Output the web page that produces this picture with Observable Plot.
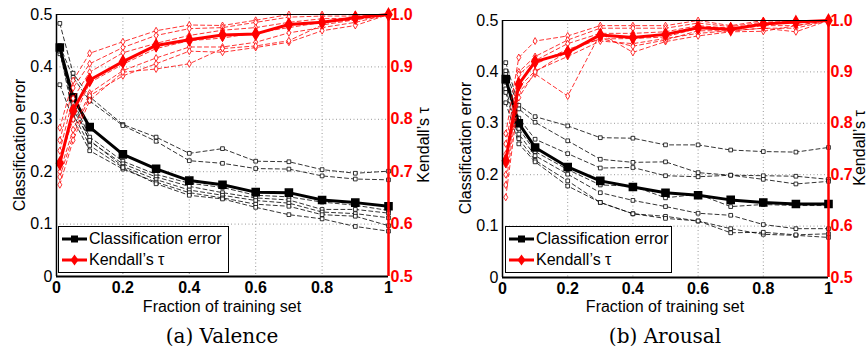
<!DOCTYPE html>
<html><head><meta charset="utf-8">
<script src="https://cdn.jsdelivr.net/npm/d3@7"></script>
<script src="https://cdn.jsdelivr.net/npm/@observablehq/plot@0.6"></script>
<style>
body{margin:0;background:#fff;}
#wrap{position:relative;width:867px;height:349px;overflow:hidden;font-family:"Liberation Sans",Arial,sans-serif;color:#000;}
.panel{position:absolute;top:0;height:306px;}
.ytitle,.ktitle{position:absolute;font-size:16px;line-height:15px;white-space:nowrap;transform:translate(-50%,-50%) rotate(-90deg);}
.xtitle{position:absolute;font-size:16px;line-height:15px;white-space:nowrap;transform:translateX(-50%);}
.cap{position:absolute;font-family:"DejaVu Serif",serif;font-size:20px;line-height:20px;white-space:nowrap;transform:translateX(-50%);}
.legend{position:absolute;border:1.5px solid #000;background:#fff;box-sizing:border-box;}
.lrow{position:absolute;left:3px;display:flex;align-items:center;font-size:16px;line-height:18px;white-space:nowrap;}
.lrow svg{margin-right:2px;}
</style></head>
<body><div id="wrap"></div>
<script>
// ---------- data ----------
const fractions = [0.01, 0.05, 0.1, 0.2, 0.3, 0.4, 0.5, 0.6, 0.7, 0.8, 0.9, 1.0];
const xTicks = [0, 0.2, 0.4, 0.6, 0.8, 1];
const errTicks = [0, 0.1, 0.2, 0.3, 0.4, 0.5];
const tauTicks = [0.5, 0.6, 0.7, 0.8, 0.9, 1.0];

// (a) Valence
const valenceErrMean = [0.437, 0.342, 0.285, 0.233, 0.2055, 0.183, 0.175, 0.161, 0.160, 0.146, 0.141, 0.134];
const valenceErrFolds = [
  [0.483, 0.388, 0.343, 0.290, 0.266, 0.235, 0.244, 0.220, 0.219, 0.204, 0.197, 0.201],
  [0.440, 0.380, 0.335, 0.288, 0.258, 0.221, 0.216, 0.206, 0.205, 0.192, 0.186, 0.1845],
  [0.430, 0.335, 0.266, 0.220, 0.195, 0.178, 0.170, 0.155, 0.152, 0.142, 0.136, 0.126],
  [0.425, 0.330, 0.258, 0.215, 0.190, 0.172, 0.160, 0.150, 0.146, 0.128, 0.128, 0.121],
  [0.440, 0.320, 0.260, 0.210, 0.185, 0.165, 0.155, 0.145, 0.140, 0.123, 0.120, 0.112],
  [0.366, 0.300, 0.240, 0.205, 0.180, 0.160, 0.150, 0.138, 0.134, 0.118, 0.115, 0.097],
  [0.430, 0.310, 0.250, 0.208, 0.177, 0.155, 0.148, 0.132, 0.118, 0.110, 0.0955, 0.0865]
];
const valenceTauMean = [0.716, 0.817, 0.875, 0.910, 0.941, 0.952, 0.961, 0.963, 0.981, 0.985, 0.994, 1.0];
const valenceTauFolds = [
  [0.784, 0.874, 0.926, 0.948, 0.969, 0.980, 0.979, 0.989, 1.0, 1.0, 1.0, 1.0],
  [0.760, 0.860, 0.906, 0.937, 0.960, 0.973, 0.975, 0.985, 0.995, 0.997, 0.997, 1.0],
  [0.740, 0.840, 0.890, 0.927, 0.945, 0.960, 0.970, 0.975, 0.985, 0.992, 0.993, 1.0],
  [0.720, 0.800, 0.870, 0.905, 0.935, 0.950, 0.955, 0.965, 0.975, 0.985, 0.990, 1.0],
  [0.700, 0.780, 0.850, 0.893, 0.917, 0.938, 0.938, 0.947, 0.965, 0.975, 0.985, 1.0],
  [0.690, 0.769, 0.845, 0.883, 0.906, 0.930, 0.928, 0.937, 0.947, 0.969, 0.979, 1.0],
  [0.675, 0.760, 0.836, 0.890, 0.896, 0.906, 0.935, 0.940, 0.950, 0.980, 0.990, 1.0]
];

// (b) Arousal
const arousalErrMean = [0.386, 0.300, 0.253, 0.215, 0.188, 0.176, 0.165, 0.160, 0.151, 0.146, 0.143, 0.143];
const arousalErrFolds = [
  [0.418, 0.335, 0.313, 0.295, 0.272, 0.271, 0.258, 0.258, 0.248, 0.245, 0.244, 0.253],
  [0.402, 0.328, 0.302, 0.266, 0.230, 0.224, 0.225, 0.204, 0.199, 0.198, 0.197, 0.191],
  [0.395, 0.310, 0.269, 0.241, 0.213, 0.214, 0.198, 0.196, 0.199, 0.191, 0.182, 0.187],
  [0.380, 0.290, 0.245, 0.210, 0.180, 0.178, 0.155, 0.162, 0.138, 0.142, 0.140, 0.140],
  [0.367, 0.279, 0.237, 0.201, 0.165, 0.150, 0.138, 0.125, 0.121, 0.103, 0.095, 0.095],
  [0.360, 0.270, 0.228, 0.188, 0.146, 0.124, 0.119, 0.110, 0.095, 0.084, 0.082, 0.078],
  [0.340, 0.260, 0.225, 0.178, 0.146, 0.124, 0.115, 0.110, 0.087, 0.088, 0.083, 0.085]
];
const arousalTauMean = [0.727, 0.876, 0.920, 0.938, 0.972, 0.967, 0.973, 0.986, 0.983, 0.993, 0.997, 1.0];
const arousalTauFolds = [
  [0.780, 0.928, 0.960, 0.970, 0.990, 0.990, 0.990, 1.0, 0.990, 1.0, 1.0, 1.0],
  [0.760, 0.900, 0.930, 0.962, 0.985, 0.985, 0.985, 0.995, 0.988, 0.997, 0.998, 1.0],
  [0.740, 0.895, 0.922, 0.955, 0.975, 0.975, 0.978, 0.990, 0.985, 0.993, 0.995, 1.0],
  [0.720, 0.880, 0.915, 0.944, 0.964, 0.965, 0.968, 0.985, 0.982, 0.990, 0.990, 1.0],
  [0.700, 0.870, 0.902, 0.930, 0.960, 0.955, 0.965, 0.975, 0.980, 0.985, 0.985, 1.0],
  [0.680, 0.860, 0.896, 0.853, 0.975, 0.938, 0.959, 0.970, 0.978, 0.979, 0.990, 1.0],
  [0.656, 0.850, 0.900, 0.940, 0.965, 0.950, 0.962, 0.980, 0.980, 0.985, 0.978, 1.0]
];

// ---------- drawing ----------
const RED = "#ff0000";
const TAU_BASE = tauTicks[0]; // right axis 0.5..1.0 shares the left axis 0..0.5
const meanRows = vals => vals.map((v, i) => ({f: fractions[i], v}));
const foldRows = folds => folds.flatMap((fold, k) => fold.map((v, i) => ({f: fractions[i], v, fold: k})));
const tauY = d => d.v - TAU_BASE;

function panel(cfg) {
  const errM = meanRows(cfg.errMean), errF = foldRows(cfg.errFolds);
  const tauM = meanRows(cfg.tauMean), tauF = foldRows(cfg.tauFolds);
  const gridStyle = {stroke: "#999", strokeOpacity: 1, strokeWidth: 1, strokeDasharray: "1,2.5"};
  return Plot.plot({
    width: cfg.width, height: 306,
    marginLeft: cfg.ml, marginRight: cfg.mr, marginTop: cfg.mt, marginBottom: 306 - cfg.bottom,
    style: {fontFamily: "'Liberation Sans', Arial, sans-serif", fontSize: "16px", background: "white", overflow: "visible"},
    x: {domain: [0, 1]},
    y: {domain: [0, 0.5]},
    marks: [
      Plot.ruleX(xTicks.slice(1, -1), gridStyle),
      Plot.ruleY(errTicks.slice(1, -1), gridStyle),
      Plot.line(errF, {x: "f", y: "v", z: "fold", stroke: "#000", strokeWidth: 0.8, strokeDasharray: "4,3"}),
      Plot.dot(errF, {x: "f", y: "v", symbol: "square", r: 2.1, stroke: "#000", fill: "white", strokeWidth: 0.8}),
      Plot.line(errM, {x: "f", y: "v", stroke: "#000", strokeWidth: 3}),
      Plot.dot(errM, {x: "f", y: "v", symbol: "square", r: 4, fill: "#000", stroke: "#000"}),
      Plot.line(tauF, {x: "f", y: tauY, z: "fold", stroke: RED, strokeWidth: 0.8, strokeDasharray: "4,3"}),
      Plot.dot(tauF, {x: "f", y: tauY, symbol: "diamond", r: 2.1, stroke: RED, fill: "white", strokeWidth: 0.8}),
      Plot.line(tauM, {x: "f", y: tauY, stroke: RED, strokeWidth: 3}),
      Plot.dot(tauM, {x: "f", y: tauY, symbol: "diamond", r: 3.6, fill: RED, stroke: RED}),
      Plot.ruleY([0.5], {stroke: "#000", strokeWidth: 1}),
      Plot.ruleX([0], {stroke: "#000", strokeWidth: 1.5}),
      Plot.ruleY([0], {stroke: "#000", strokeWidth: 2.2}),
      Plot.ruleX([1], {stroke: RED, strokeWidth: 2.5}),
      Plot.axisX({ticks: xTicks, tickFormat: d => (d === 0 || d === 1) ? String(d) : d.toFixed(1),
        tickSize: 0, tickPadding: 5, fontWeight: "bold", fill: "#000", label: null}),
      Plot.axisY({anchor: "left", ticks: errTicks, tickFormat: d => d === 0 ? "0" : d.toFixed(1),
        tickSize: 0, tickPadding: 4, fill: "#000", label: null}),
      Plot.axisY({anchor: "right", ticks: tauTicks.map(t => t - TAU_BASE), tickFormat: d => (d + TAU_BASE).toFixed(1),
        tickSize: 0, tickPadding: 2, fontWeight: "bold", fill: RED, label: null})
    ]
  });
}

const wrap = document.getElementById("wrap");
function legendSample(color, kind) {
  const marker = kind === "square"
    ? `<rect x="9" y="2.5" width="7" height="7" fill="${color}"/>`
    : `<path d="M12.5 0.5 L16.5 6 L12.5 11.5 L8.5 6 Z" fill="${color}"/>`;
  return `<svg width="25" height="12"><line x1="0" x2="25" y1="6" y2="6" stroke="${color}" stroke-width="3"/>${marker}</svg>`;
}
function addPanel(cfg) {
  const div = document.createElement("div");
  div.className = "panel";
  div.style.left = cfg.left + "px";
  div.style.width = cfg.width + "px";
  div.appendChild(panel(cfg));
  wrap.appendChild(div);

  const add = (cls, text, css) => {
    const el = document.createElement("div");
    el.className = cls; el.textContent = text;
    Object.assign(el.style, css);
    wrap.appendChild(el);
    return el;
  };
  add("ytitle", "Classification error", {left: cfg.yTitleX + "px", top: cfg.titleY + "px"});
  add("ktitle", "Kendall\u2019s \u03c4", {left: cfg.kTitleX + "px", top: cfg.titleY + "px"});
  add("xtitle", "Fraction of training set", {left: cfg.xTitleX + "px", top: "299px"});
  add("cap", cfg.caption, {left: cfg.xTitleX + "px", top: "326px"});

  const lg = document.createElement("div");
  lg.className = "legend";
  Object.assign(lg.style, {left: cfg.lgX + "px", top: cfg.lgY + "px", width: cfg.lgW + "px", height: "47px"});
  lg.innerHTML =
    `<div class="lrow" style="top:3px">${legendSample("#000", "square")}<span>Classification error</span></div>` +
    `<div class="lrow" style="top:24px">${legendSample(RED, "diamond")}<span>Kendall\u2019s \u03c4</span></div>`;
  wrap.appendChild(lg);
}

addPanel({left: 0, width: 433, ml: 56, mr: 45, mt: 14, bottom: 276,
  errMean: valenceErrMean, errFolds: valenceErrFolds, tauMean: valenceTauMean, tauFolds: valenceTauFolds,
  yTitleX: 19, kTitleX: 423, titleY: 145, xTitleX: 222, caption: "(a) Valence",
  lgX: 58, lgY: 226, lgW: 171});
addPanel({left: 433, width: 434, ml: 69, mr: 39, mt: 20, bottom: 277,
  errMean: arousalErrMean, errFolds: arousalErrFolds, tauMean: arousalTauMean, tauFolds: arousalTauFolds,
  yTitleX: 465, kTitleX: 859, titleY: 148, xTitleX: 665, caption: "(b) Arousal",
  lgX: 505, lgY: 226, lgW: 167});
</script></body></html>
